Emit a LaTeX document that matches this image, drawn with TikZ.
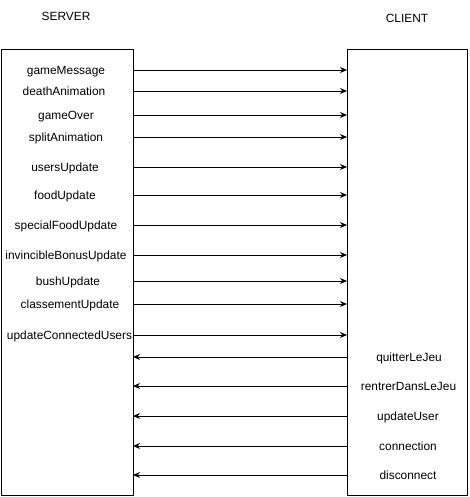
\documentclass[tikz,border=0pt]{standalone}
\usepackage{fontspec}
\setmainfont{Liberation Sans}
\usetikzlibrary{arrows.meta}

\begin{document}
\begin{tikzpicture}[x=1pt, y=-1pt, every node/.style={font=\fontsize{11.9}{14}\selectfont, inner sep=0pt, text height=11pt, text depth=2pt}]
        \useasboundingbox (0,0) rectangle (469,497);
        \tikzset{side/.style={draw, line width=1pt, outer sep=0pt, anchor=north west, minimum height=445pt},
                 msg/.style={line width=0.9pt, -{Stealth[length=7pt, width=6pt]}}}
        \node (srvtitle) at (66,16) {SERVER};
        \node (clttitle) at (407,18) {CLIENT};
        \node[side, minimum width=132pt] (server) at (1,50) {};
        \node[side, minimum width=120pt] (client) at (347,50) {};
        % sent by the server
        \node (gameMessage) at (66,70) {gameMessage};
        \node (deathAnimation) at (64,91) {deathAnimation};
        \node (gameOver) at (66,115) {gameOver};
        \node (splitAnimation) at (66,137) {splitAnimation};
        \node (usersUpdate) at (65,167) {usersUpdate};
        \node (foodUpdate) at (65,195) {foodUpdate};
        \node (specialFoodUpdate) at (66,225) {specialFoodUpdate};
        \node (invincibleBonusUpdate) at (66,255) {invincibleBonusUpdate};
        \node (bushUpdate) at (68,281) {bushUpdate};
        \node (classementUpdate) at (70,304) {classementUpdate};
        \node (updateConnectedUsers) at (69.5,335) {updateConnectedUsers};
        % sent by the client
        \node (quitterLeJeu) at (409,357) {quitterLeJeu};
        \node (rentrerDansLeJeu) at (408.5,386) {rentrerDansLeJeu};
        \node (updateUser) at (408,416) {updateUser};
        \node (connection) at (408,446) {connection};
        \node (disconnect) at (408,475) {disconnect};
        \draw[msg] (gameMessage -| server.east) -- (gameMessage -| client.west);
        \draw[msg] (deathAnimation -| server.east) -- (deathAnimation -| client.west);
        \draw[msg] (gameOver -| server.east) -- (gameOver -| client.west);
        \draw[msg] (splitAnimation -| server.east) -- (splitAnimation -| client.west);
        \draw[msg] (usersUpdate -| server.east) -- (usersUpdate -| client.west);
        \draw[msg] (foodUpdate -| server.east) -- (foodUpdate -| client.west);
        \draw[msg] (specialFoodUpdate -| server.east) -- (specialFoodUpdate -| client.west);
        \draw[msg] (invincibleBonusUpdate -| server.east) -- (invincibleBonusUpdate -| client.west);
        \draw[msg] (bushUpdate -| server.east) -- (bushUpdate -| client.west);
        \draw[msg] (classementUpdate -| server.east) -- (classementUpdate -| client.west);
        \draw[msg] (updateConnectedUsers -| server.east) -- (updateConnectedUsers -| client.west);
        \draw[msg] (quitterLeJeu -| client.west) -- (quitterLeJeu -| server.east);
        \draw[msg] (rentrerDansLeJeu -| client.west) -- (rentrerDansLeJeu -| server.east);
        \draw[msg] (updateUser -| client.west) -- (updateUser -| server.east);
        \draw[msg] (connection -| client.west) -- (connection -| server.east);
        \draw[msg] (disconnect -| client.west) -- (disconnect -| server.east);
    \end{tikzpicture}
\end{document}
